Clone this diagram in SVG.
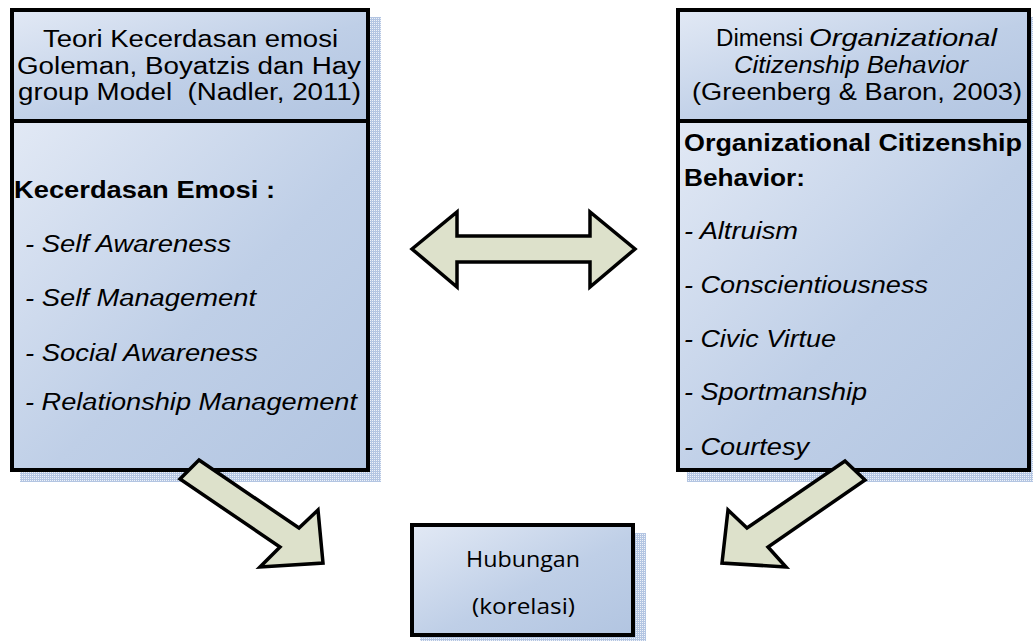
<svg xmlns="http://www.w3.org/2000/svg" width="1033" height="641" viewBox="0 0 1033 641">
  <style>
    text { font-family: "Liberation Sans", Arial, sans-serif; fill: #000; }
    .title { font-size: 23px; }
    .head { font-size: 23px; font-weight: bold; }
    .item { font-size: 23px; font-style: italic; }
    .ital { font-style: italic; }
    .cal { font-family: "Open Sans", "Liberation Sans", sans-serif; font-size: 21px; }
    .box { fill: url(#boxFill); stroke: #000; stroke-width: 4; }
    .shadow { fill: url(#dots); }
    .arrow { fill: #dde1cb; stroke: #000; stroke-width: 3.5; stroke-linejoin: miter; }
  </style>
  <defs>
    <linearGradient id="boxFill" x1="0" y1="0" x2="1" y2="1">
      <stop offset="0" stop-color="#e2e9f5"/>
      <stop offset="0.55" stop-color="#bfcfe7"/>
      <stop offset="1" stop-color="#b2c5e1"/>
    </linearGradient>
    <pattern id="dots" patternUnits="userSpaceOnUse" width="2" height="2">
      <rect width="2" height="2" fill="#b3c5e2"/>
      <rect width="1" height="1" fill="#eef2f9"/>
    </pattern>
  </defs>

  <!-- Left node: emotional intelligence theory -->
  <g id="node-kecerdasan">
    <rect class="shadow" x="20" y="17" width="361" height="465"/>
    <rect class="box" x="12" y="10" width="356" height="111"/>
    <rect class="box" x="12" y="121" width="356" height="349"/>
    <text class="title" x="43" y="47" textLength="295" lengthAdjust="spacingAndGlyphs">Teori Kecerdasan emosi</text>
    <text class="title" x="17" y="74" textLength="344" lengthAdjust="spacingAndGlyphs">Goleman, Boyatzis dan Hay</text>
    <text class="title" x="18" y="100" textLength="343" lengthAdjust="spacingAndGlyphs" xml:space="preserve">group Model  (Nadler, 2011)</text>
    <text class="head" x="14" y="198" textLength="261" lengthAdjust="spacingAndGlyphs">Kecerdasan Emosi :</text>
    <text class="item" x="25" y="252" textLength="206" lengthAdjust="spacingAndGlyphs">- Self Awareness</text>
    <text class="item" x="25" y="306" textLength="231" lengthAdjust="spacingAndGlyphs">- Self Management</text>
    <text class="item" x="25" y="361" textLength="233" lengthAdjust="spacingAndGlyphs">- Social Awareness</text>
    <text class="item" x="25" y="410" textLength="332" lengthAdjust="spacingAndGlyphs">- Relationship Management</text>
  </g>

  <!-- Right node: OCB dimensions -->
  <g id="node-ocb">
    <rect class="shadow" x="687" y="17" width="360" height="465"/>
    <rect class="box" x="678" y="10" width="351" height="111"/>
    <rect class="box" x="678" y="121" width="351" height="349"/>
    <text class="title" x="716" y="46" textLength="87" lengthAdjust="spacingAndGlyphs">Dimensi</text>
    <text class="title ital" x="809" y="46" textLength="188" lengthAdjust="spacingAndGlyphs">Organizational</text>
    <text class="title ital" x="734" y="73" textLength="234" lengthAdjust="spacingAndGlyphs">Citizenship Behavior</text>
    <text class="title" x="692" y="100" textLength="330" lengthAdjust="spacingAndGlyphs">(Greenberg &amp; Baron, 2003)</text>
    <text class="head" x="684" y="151" textLength="338" lengthAdjust="spacingAndGlyphs">Organizational Citizenship</text>
    <text class="head" x="684" y="186" textLength="121" lengthAdjust="spacingAndGlyphs">Behavior:</text>
    <text class="item" x="684" y="239" textLength="114" lengthAdjust="spacingAndGlyphs">- Altruism</text>
    <text class="item" x="684" y="293" textLength="244" lengthAdjust="spacingAndGlyphs">- Conscientiousness</text>
    <text class="item" x="684" y="347" textLength="152" lengthAdjust="spacingAndGlyphs">- Civic Virtue</text>
    <text class="item" x="684" y="400" textLength="183" lengthAdjust="spacingAndGlyphs">- Sportmanship</text>
    <text class="item" x="684" y="455" textLength="125" lengthAdjust="spacingAndGlyphs">- Courtesy</text>
  </g>

  <!-- Bottom node: relationship -->
  <g id="node-hubungan">
    <rect class="shadow" x="420" y="533" width="226" height="115"/>
    <rect class="box" x="412" y="525" width="221" height="110"/>
    <text class="cal" x="466" y="567" textLength="114" lengthAdjust="spacingAndGlyphs">Hubungan</text>
    <text class="cal" x="472" y="614" textLength="103" lengthAdjust="spacingAndGlyphs">(korelasi)</text>
  </g>

  <!-- Block arrows -->
  <g id="connectors">
    <polygon class="arrow" points="412,249 457,212 457,236 590,236 590,212 635,249 590,287 590,262 457,262 457,287"/>
    <polygon class="arrow" points="199,460 299,528 318,510 323,563 260,567 280,547 180,479"/>
    <polygon class="arrow" points="845,461 865,480 768,547 786,567 722,563 728,510 747,528"/>
  </g>
</svg>
